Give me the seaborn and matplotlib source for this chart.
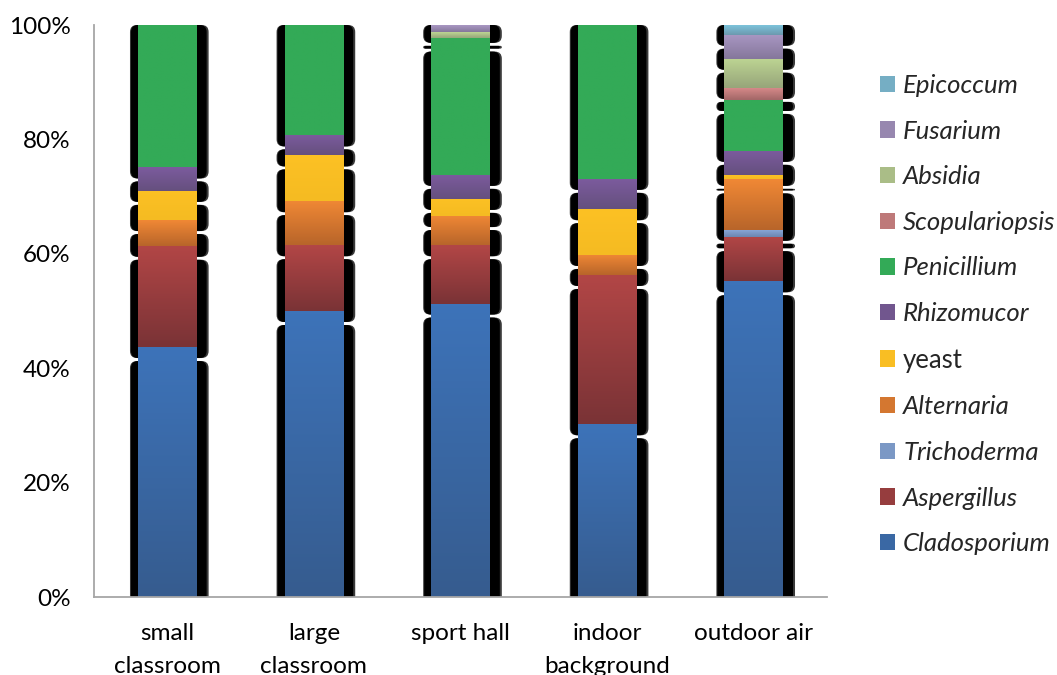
import numpy as np
import matplotlib
matplotlib.use("Agg")
import matplotlib.pyplot as plt
import seaborn as sns
from matplotlib.patches import FancyBboxPatch, Patch
from matplotlib.colors import LinearSegmentedColormap, to_rgb
from matplotlib.ticker import FuncFormatter

# Sampling sites (x categories)
sites = ["small\nclassroom", "large\nclassroom", "sport hall",
         "indoor\nbackground", "outdoor air"]

# Genera, stacked from bottom to top
genera = ["Cladosporium", "Aspergillus", "Trichoderma", "Alternaria", "yeast",
          "Rhizomucor", "Penicillium", "Scopulariopsis", "Absidia",
          "Fusarium", "Epicoccum"]

# Relative abundance (%) of each genus at each site
cladosporium = [43.7, 50.0, 51.3, 30.2, 55.2]
aspergillus = [17.7, 11.5, 10.2, 26.1, 7.7]
trichoderma = [0.0, 0.0, 0.0, 0.0, 1.3]
alternaria = [4.5, 7.7, 5.1, 3.5, 8.8]
yeast = [5.1, 8.0, 3.0, 8.0, 0.8]
rhizomucor = [4.1, 3.5, 4.2, 5.3, 4.2]
penicillium = [24.9, 19.3, 24.0, 26.9, 8.9]
scopulariopsis = [0.0, 0.0, 0.0, 0.0, 2.1]
absidia = [0.0, 0.0, 1.0, 0.0, 5.1]
fusarium = [0.0, 0.0, 1.2, 0.0, 4.2]
epicoccum = [0.0, 0.0, 0.0, 0.0, 1.7]

series = [cladosporium, aspergillus, trichoderma, alternaria, yeast,
          rhizomucor, penicillium, scopulariopsis, absidia, fusarium, epicoccum]

# Gradient fill colours (top of segment -> bottom of segment)
top_colors = ["#3D73B9", "#B24646", "#8BA9DA", "#F08835", "#FCC124",
              "#7C5B9E", "#33AA57", "#D98B8B", "#BDD593", "#A997C3", "#7DC3DB"]
bottom_colors = ["#365C8F", "#7A3336", "#6C86B0", "#B8652A", "#F5BB22",
                 "#65507E", "#33AA57", "#A26767", "#97A57A", "#85779B", "#6C99AE"]

def mix(c1, c2):
    a, b = np.array(to_rgb(c1)), np.array(to_rgb(c2))
    return tuple((a + b) / 2)

mid_colors = [mix(t, b) for t, b in zip(top_colors, bottom_colors)]

sns.set_theme(style="white")
plt.rcParams["font.family"] = ["Lato", "DejaVu Sans"]

W, H = 1057, 675
fig = plt.figure(figsize=(W / 100, H / 100), dpi=100)
ax = fig.add_axes([94 / W, 78 / H, (827 - 94) / W, 572 / H])

# Stacked bars, one seaborn call per genus
bottom = np.zeros(len(sites))
segments = []
for gi, vals in enumerate(series):
    n_before = len(ax.patches)
    sns.barplot(x=sites, y=vals, bottom=bottom.copy(), color=mid_colors[gi],
                saturation=1, width=0.4, errorbar=None, linewidth=0,
                edgecolor="none", zorder=3, ax=ax)
    for p in ax.patches[n_before:]:
        segments.append((gi, p))
    bottom += np.array(vals)

ax.set_xlim(-0.5, len(sites) - 0.5)
ax.set_ylim(0, 100)

# Data units per pixel, for the shadow geometry
pos = ax.get_position()
ax_w_px = pos.width * W
ax_h_px = pos.height * H
ux = (len(sites)) / ax_w_px
uy = 100.0 / ax_h_px

for gi, p in segments:
    x0, y0 = p.get_x(), p.get_y()
    w, h = p.get_width(), p.get_height()
    if h <= 0:
        continue
    y1 = y0 + h
    # gradient fill over the bar segment
    cmap = LinearSegmentedColormap.from_list(
        "g", [bottom_colors[gi], top_colors[gi]])
    grad = np.linspace(0, 1, 64).reshape(-1, 1)
    ax.imshow(grad, extent=[x0, x0 + w, y0, y1], origin="lower",
              aspect="auto", cmap=cmap, zorder=3.5, interpolation="bilinear")
    # rounded drop shadow behind the segment
    s_top = y1 if y1 > 99.9 else y1 - 14 * uy
    s_bot = y0 - 11 * uy
    if s_top - s_bot <= 0:
        continue
    left = x0 - 7 * ux
    right = x0 + w + 10 * ux
    hpx = (s_top - s_bot) / uy
    r = min(7.0, hpx / 2.0) * ux
    for dx_l, dx_r, fc, z in [(1, 2, "#3a3a3a", 1.9), (0, 0, "black", 2.0)]:
        box = FancyBboxPatch((left - dx_l * ux, s_bot),
                             (right - left) + (dx_l + dx_r) * ux,
                             s_top - s_bot,
                             boxstyle=f"round,pad=0,rounding_size={r}",
                             mutation_aspect=uy / ux, fc=fc, ec="none",
                             zorder=z)
        ax.add_patch(box)

ax.set_xlim(-0.5, len(sites) - 0.5)
ax.set_ylim(0, 100)

# Axes styling
axis_gray = "#A6A6A6"
for side in ["top", "right"]:
    ax.spines[side].set_visible(False)
for side in ["left", "bottom"]:
    ax.spines[side].set_color(axis_gray)
    ax.spines[side].set_linewidth(1.3)
    ax.spines[side].set_zorder(5)

ax.set_yticks(range(0, 101, 20))
ax.yaxis.set_major_formatter(FuncFormatter(lambda v, _: f"{int(v)}%"))
ax.tick_params(axis="y", direction="out", length=5.8, width=1.2,
               color=axis_gray, pad=11, labelsize=17.5, labelcolor="black")
ax.set_xticks(range(len(sites)))
ax.set_xticklabels(sites, linespacing=1.7)
ax.set_xticks(np.arange(-0.5, len(sites)), minor=True)
ax.tick_params(axis="x", which="major", length=0, pad=18.5, labelsize=17.5,
               labelcolor="black")
ax.tick_params(axis="x", which="minor", direction="out", length=5.8,
               width=1.2, color=axis_gray)
ax.set_xlabel("")
ax.set_ylabel("")
ax.grid(False)

# Legend, top genus first
handles = [Patch(facecolor=mid_colors[i], edgecolor="none")
           for i in range(len(genera) - 1, -1, -1)]
labels = [genera[i] for i in range(len(genera) - 1, -1, -1)]
leg = fig.legend(handles, labels, loc="upper left",
                 bbox_to_anchor=(880 / W, 1 - 74 / H), frameon=False,
                 fontsize=18.5, handlelength=0.6, handleheight=0.6,
                 handletextpad=0.3, labelspacing=0.88, borderpad=0,
                 borderaxespad=0)
for t in leg.get_texts():
    if t.get_text() != "yeast":
        t.set_fontstyle("italic")

fig.savefig("out.png", dpi=100)
